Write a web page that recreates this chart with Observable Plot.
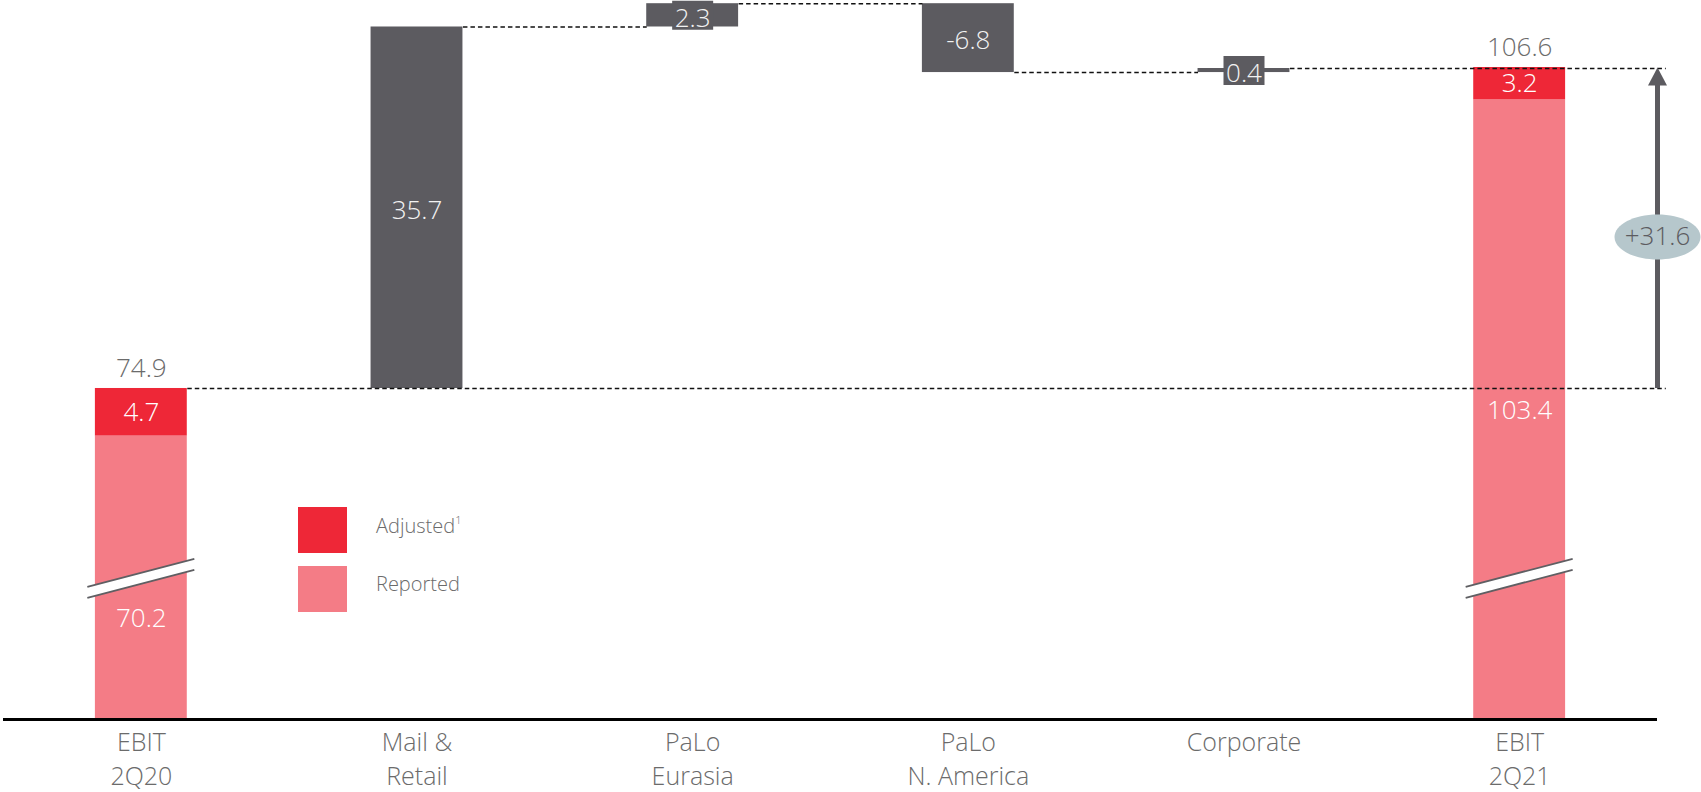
<!DOCTYPE html>
<html><head><meta charset="utf-8">
<script src="https://cdn.jsdelivr.net/npm/d3@7"></script>
<script src="https://cdn.jsdelivr.net/npm/@observablehq/plot@0.6"></script>
<style>
  body { margin: 0; background: #fff; }
  #wrap { position: relative; width: 1701px; height: 792px; font-family: "Open Sans", sans-serif; font-weight: 300; }
  .sw { position: absolute; width: 49px; height: 46px; }
  .lt { position: absolute; font-size: 20px; color: #6b6b6b; line-height: 1; transform: translateY(-50%); }
  .lt sup { font-size: 11px; vertical-align: 9px; }
</style></head>
<body><div id="wrap"></div>
<script>
// ---- data ----
const categories = ["EBIT\n2Q20", "Mail &\nRetail", "PaLo\nEurasia", "PaLo\nN. America", "Corporate", "EBIT\n2Q21"];
const totalIndex = [0, 5];
const totalReported = [70.2, 103.4];
const totalAdjustment = [4.7, 3.2];
const totalValue = [74.9, 106.6];
const segmentDeltas = [35.7, 2.3, -6.8, 0.4];
const changeLabel = "+31.6";
const legendLabels = ["Adjusted", "Reported"];

// ---- colours / layout ----
const RED = "#ee2737", PINK = "#f47c86", GREY = "#5c5b60", TXT = "#6b6b6b", OVAL = "#b6c7cc";
const HW = 1 / 6;                 // half bar width in category units
const Y_DOMAIN = [42.21, 112.92]; // broken axis: visible value window
const BREAK_AT = 56.2;            // where the break marks sit
const REPORTED_LABEL_AT = [52.2, 72.7];

const totals = totalIndex.map((i, k) => ({
  i, reported: totalReported[k], adjusted: totalAdjustment[k], total: totalValue[k],
  labelAt: REPORTED_LABEL_AT[k]
}));
let cum = totalValue[0];
const steps = segmentDeltas.map((d, k) => {
  const s = {i: k + 1, y1: cum, y2: cum + d, label: d.toFixed(1)};
  cum += d; return s;
});
const connectors = [
  {x1: 0 + HW, x2: 5.53, y: totalValue[0]},
  ...steps.map((s, k) => ({x1: s.i + HW, x2: k < steps.length - 1 ? steps[k + 1].i - HW : 5.53, y: s.y2}))
];

const boxSymbol = {draw(c) { c.rect(-20.5, -14.5, 41, 29); }};
const breakFill = {draw(c) { c.moveTo(-54, 9); c.lineTo(53, -19); c.lineTo(53, -8); c.lineTo(-54, 20); c.closePath(); }};
const breakLines = {draw(c) { c.moveTo(-54, 9); c.lineTo(53, -19); c.moveTo(-54, 20); c.lineTo(53, -8); }};
const headSymbol = {draw(c) { c.moveTo(0, 0); c.lineTo(9.5, 18); c.lineTo(-9.5, 18); c.closePath(); }};
const ovalSymbol = {draw(c) {
  const rx = 43, ry = 22.5, k = 0.5523;
  c.moveTo(rx, 0);
  c.bezierCurveTo(rx, k * ry, k * rx, ry, 0, ry);
  c.bezierCurveTo(-k * rx, ry, -rx, k * ry, -rx, 0);
  c.bezierCurveTo(-rx, -k * ry, -k * rx, -ry, 0, -ry);
  c.bezierCurveTo(k * rx, -ry, rx, -k * ry, rx, 0);
  c.closePath();
}};

const mid = (totalValue[0] + totalValue[1]) / 2;

const chart = Plot.plot({
  width: 1701, height: 792,
  marginLeft: 3, marginRight: 44, marginTop: 3, marginBottom: 73,
  style: {fontFamily: "'Open Sans', sans-serif", fontWeight: 300, background: "#fff", overflow: "visible"},
  x: {type: "linear", domain: [-0.5, 5.5]},
  y: {domain: Y_DOMAIN, axis: null},
  marks: [
    Plot.rectY(totals, {x1: d => d.i - HW, x2: d => d.i + HW, y1: 0, y2: "reported", fill: PINK, clip: true}),
    Plot.rectY(totals, {x1: d => d.i - HW, x2: d => d.i + HW, y1: "reported", y2: "total", fill: RED}),
    Plot.rectY(steps, {x1: d => d.i - HW, x2: d => d.i + HW, y1: "y1", y2: "y2", fill: GREY}),
    Plot.dot(totals, {x: "i", y: () => BREAK_AT, symbol: breakFill, fill: "#fff"}),
    Plot.dot(totals, {x: "i", y: () => BREAK_AT, symbol: breakLines, fill: "none", stroke: "#5f5f63", strokeWidth: 1.8}),
    Plot.link(connectors, {x1: "x1", x2: "x2", y1: "y", y2: "y", stroke: "#111", strokeWidth: 1.6, strokeDasharray: "4.5,3"}),
    Plot.dot(steps.filter(s => Math.abs(s.y2 - s.y1) < 3), {x: "i", y: d => (d.y1 + d.y2) / 2, symbol: boxSymbol, fill: GREY}),
    Plot.ruleY([Y_DOMAIN[0]], {stroke: "#000", strokeWidth: 3}),
    // values
    Plot.text(totals, {x: "i", y: "total", dy: -20, text: d => d.total.toFixed(1), fontSize: 26, fill: TXT}),
    Plot.text(totals, {x: "i", y: d => (d.reported + d.total) / 2, text: d => d.adjusted.toFixed(1), fontSize: 26, fill: "#fff"}),
    Plot.text(totals, {x: "i", y: "labelAt", text: d => d.reported.toFixed(1), fontSize: 26, fill: "#fff"}),
    Plot.text(steps, {x: "i", y: d => (d.y1 + d.y2) / 2, dy: 3, text: "label", fontSize: 26, fill: "#f2f2f2"}),
    // change arrow
    Plot.ruleX([5.5], {y1: totalValue[1], y2: totalValue[0], stroke: GREY, strokeWidth: 5, insetTop: 12}),
    Plot.dot([5.5], {x: d => d, y: () => totalValue[1], symbol: headSymbol, fill: GREY}),
    Plot.dot([5.5], {x: d => d, y: () => mid, dy: 9, symbol: ovalSymbol, fill: OVAL}),
    Plot.text([changeLabel], {x: () => 5.5, y: () => mid, dy: 9, text: d => d, fontSize: 26, fill: GREY}),
    Plot.axisX(d3.range(categories.length), {tickSize: 0, tickPadding: 7, tickFormat: i => categories[i], fontSize: 25, lineHeight: 1.37, fill: TXT, label: null})
  ]
});

const wrap = document.getElementById("wrap");
wrap.appendChild(chart);
const legendColors = [RED, PINK];
legendLabels.forEach((lab, k) => {
  const sw = document.createElement("div");
  sw.className = "sw";
  sw.style.left = "298px"; sw.style.top = (507 + 59 * k) + "px"; sw.style.background = legendColors[k];
  wrap.appendChild(sw);
  const t = document.createElement("div");
  t.className = "lt";
  t.style.left = "376px"; t.style.top = (525 + 59 * k) + "px";
  t.innerHTML = lab + (k === 0 ? "<sup>1</sup>" : "");
  wrap.appendChild(t);
});
chart.style.position = "absolute"; chart.style.left = "0"; chart.style.top = "0";
</script>
</body></html>
